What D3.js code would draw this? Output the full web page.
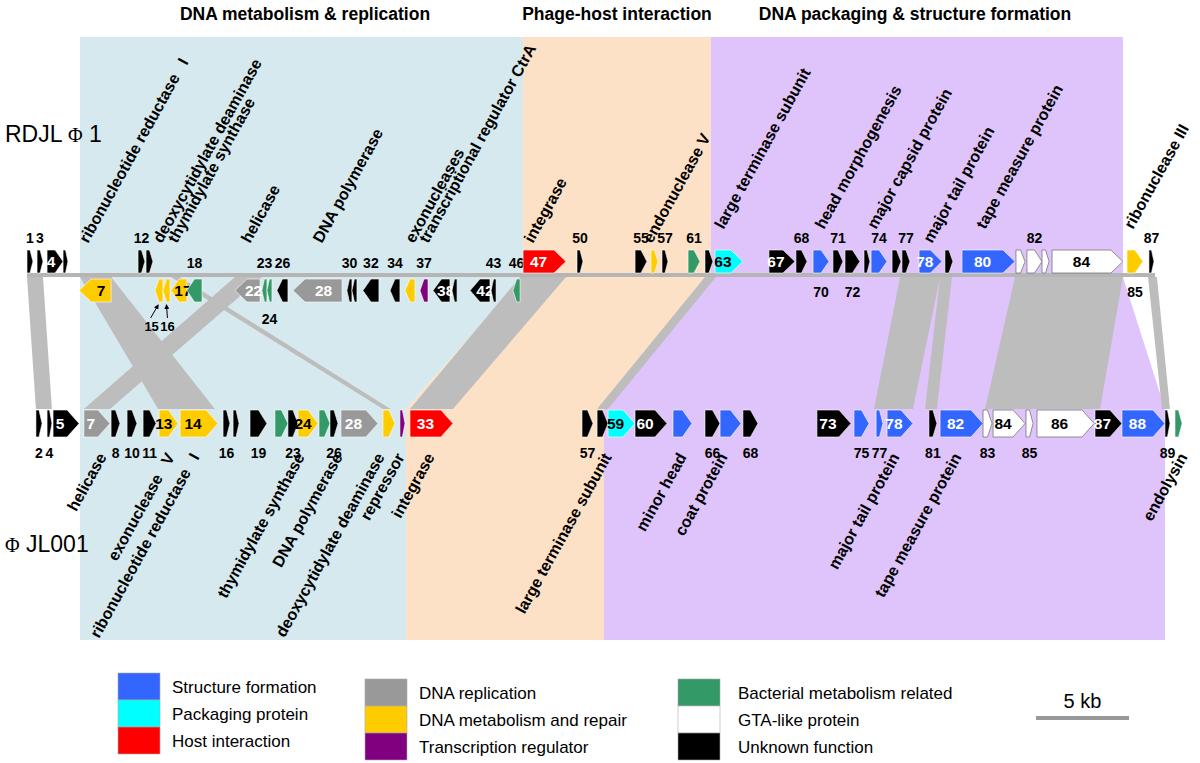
<!DOCTYPE html>
<html><head><meta charset="utf-8">
<script src="https://cdn.jsdelivr.net/npm/d3@7"></script>
<style>
body{margin:0;background:#fff;}
text{font-family:Arial,"Liberation Sans",sans-serif;}
</style></head><body>
<svg id="chart" width="1200" height="763"></svg>
<script>
// ---------- DATA ----------
const catCodes  = ["S","P","H","R","M","T","B","G","U"];
const catNames  = ["Structure formation","Packaging protein","Host interaction",
                   "DNA replication","DNA metabolism and repair","Transcription regulator",
                   "Bacterial metabolism related","GTA-like protein","Unknown function"];
const catColors = ["#3366ff","#00ffff","#ff0000","#999999","#ffcc00","#800080","#339966","#ffffff","#000000"];

const regionNames  = ["DNA metabolism & replication","Phage-host interaction","DNA packaging & structure formation"];
const regionColors = ["#d5e9ee","#fde1c6","#dfc3fb"];
// [top start kb, top end kb, bottom start kb, bottom end kb]
const regionSpans  = [[2.85,26.67,2.85,20.38],[26.67,36.77,20.38,31.02],[36.77,58.92,31.02,61.18]];

const genomeNames = ["RDJL","JL001"];
const topGenomeLength = 60.65;

// RDJLΦ1 genes: [number, start kb, end kb, strand, category, number placement]
const topGenes = [
 ["1",0.00,0.32,1,"U","up"],["3",0.54,0.86,1,"U","up"],["4",1.08,1.94,1,"U","in"],["5",1.94,2.20,1,"U",""],
 ["7",2.80,4.52,-1,"M","in"],["12",5.97,6.34,1,"U","up"],["13",6.40,6.77,1,"U",""],
 ["15",6.88,7.31,-1,"M",""],["16",7.31,7.69,-1,"M",""],["17",7.74,8.60,-1,"M","in"],["18",8.60,9.41,-1,"B","up"],
 ["22",11.18,12.53,-1,"R","in"],["23",12.63,12.90,-1,"B","up"],["24",12.90,13.17,-1,"B","dn"],["26",13.44,14.03,-1,"U","up"],
 ["28",14.30,16.94,-1,"R","in"],["30",17.20,17.47,-1,"U","up"],["31",17.47,17.74,-1,"U",""],["32",18.06,18.92,-1,"U","up"],
 ["34",19.52,20.05,-1,"U","up"],["35",20.32,20.86,-1,"M",""],["37",21.13,21.56,-1,"T","up"],["38",21.83,22.74,-1,"U","in"],
 ["39",22.85,23.12,-1,"U",""],["42",23.82,24.89,-1,"U","in"],["43",24.95,25.22,-1,"U","up"],["46",26.13,26.51,-1,"B","up"],
 ["47",26.67,28.98,1,"H","in"],["50",29.57,29.89,1,"U","up"],["55",32.69,33.33,1,"U","up"],["56",33.55,33.92,1,"M",""],
 ["57",34.14,34.46,1,"U","up"],["61",35.54,36.18,1,"B","up"],["62",36.45,36.88,1,"U",""],["63",36.99,38.49,1,"P","in"],
 ["67",39.89,41.29,1,"U","in"],["68",41.34,41.94,1,"U","up"],["70",42.26,43.12,1,"S","dn"],["71",43.33,43.87,1,"U","up"],
 ["72",43.98,44.78,1,"U","dn"],["73",45.00,45.32,1,"U",""],["74",45.38,46.24,1,"S","up"],["76",46.51,46.99,1,"U",""],
 ["77",47.04,47.47,1,"U","up"],["78",47.96,49.19,1,"S","in"],["79",49.35,49.78,1,"U",""],["80",50.27,53.12,1,"S","in"],
 ["81",53.17,53.66,1,"G",""],["82",53.76,54.57,1,"G","up"],["83",54.57,54.95,1,"G",""],["84",55.11,58.92,1,"G","in"],
 ["85",59.14,60.00,1,"M","dn"],["87",60.32,60.59,1,"U","up"]
];
// small genes labelled with pointer arrows: [number, label kb, target kb]
const pointerLabels = [["15",6.70,7.05],["16",7.55,7.50]];

// ΦJL001 genes: [number, start kb, end kb, category, number placement]
const botGenes = [
 ["2",0.48,0.81,"U","dn"],["4",1.08,1.34,"U","dn"],["5",1.40,2.80,"U","in"],["7",3.06,4.46,"R","in"],
 ["8",4.52,5.00,"U","dn"],["10",5.38,5.91,"U","dn"],["11",6.24,6.94,"U","dn"],["13",7.10,8.12,"M","in"],
 ["14",8.23,10.27,"M","in"],["16",10.54,10.91,"U","dn"],["17",11.08,11.40,"U",""],["19",11.99,12.90,"U","dn"],
 ["21",13.33,14.03,"B",""],["23",14.03,14.57,"U","dn"],["24",14.57,15.65,"M","in"],["25",15.70,16.29,"B",""],
 ["26",16.29,16.72,"U","dn"],["28",16.88,18.87,"R","in"],["30",19.14,19.78,"M",""],["31",20.05,20.32,"T",""],
 ["33",20.59,22.90,"H","in"],["57",29.84,30.43,"U","dn"],["58",30.65,31.24,"U",""],["59",31.24,32.69,"P","in"],
 ["60",32.69,34.41,"U","in"],["62",34.73,35.75,"S",""],["66",36.45,37.26,"U","dn"],["67",37.26,38.39,"S",""],
 ["68",38.49,39.30,"U","dn"],["73",42.47,44.30,"U","in"],["75",44.46,45.27,"S","dn"],["77",45.65,46.02,"S","dn"],
 ["78",46.24,47.63,"S","in"],["81",48.49,48.92,"U","dn"],["82",49.09,51.40,"S","in"],["83",51.40,51.88,"G","dn"],
 ["84",51.94,53.66,"G","in"],["85",53.71,54.09,"G","dn"],["86",54.30,57.37,"G","in"],["87",57.42,58.87,"U","in"],
 ["88",58.87,61.18,"S","in"],["89",61.18,61.45,"U","dn"],["90",61.72,62.10,"B",""]
];

// homology links: [top start kb, top end kb, bottom start kb, bottom end kb]
const homology = [
 [0.00,0.86,0.48,1.34],[2.85,4.52,7.05,10.10],[11.18,12.63,3.06,4.46],[7.74,8.20,19.14,19.55],
 [26.51,28.98,20.59,22.90],[36.45,37.04,30.65,31.24],[46.94,49.09,45.54,47.63],[49.09,49.73,48.28,48.92],
 [53.12,58.92,51.51,57.69],[60.27,60.75,61.02,61.45]
];

// function annotations: [text, anchor kb, level]
const topFunctions = [
 ["ribonucleotide reductase   I",3.28,0],["deoxycytidylate deaminase",7.25,0],["thymidylate synthase",8.05,0],
 ["helicase",11.99,0],["DNA polymerase",15.85,0],["exonucleases",20.80,0],["transcriptional regulator CtrA",21.56,0],
 ["integrase",27.20,0],["endonuclease V",33.60,0],["large terminase subunit",37.45,1],["head morphogenesis",42.85,1],
 ["major capsid protein",45.65,1],["major tail protein",48.66,0],["tape measure protein",51.51,1],["ribonuclease III",59.46,1]
];
const botFunctions = [
 ["helicase",4.30],["exonuclease   V",7.96],["ribonucleotide reductase   I",9.30],["thymidylate synthase",14.95],
 ["DNA polymerase",16.99],["deoxycytidylate deaminase",19.25],["repressor",20.32],["integrase",21.94],
 ["large terminase subunit",31.45],["minor head",35.48],["coat protein",37.69],["major tail protein",46.94],
 ["tape measure protein",50.27],["endolysin",62.42]
];
const scaleBarKb = 5;

// ---------- DRAW ----------
const svg = d3.select("#chart");
const x = d3.scaleLinear().domain([0, 60]).range([27, 1143]);
const color = d3.scaleOrdinal().domain(catCodes).range(catColors);

const Y = {regTop:37, regBot:640, linkTop:277, linkBot:409,
           topLine:275, fwdTop:250, fwdBot:273, revTop:279, revBot:302,
           botTop:410, botBot:437};

// regions
regionSpans.forEach((s,i)=>{
  const pts = [[x(s[0]),Y.regTop],[x(s[1]),Y.regTop],[x(s[1]),Y.linkTop],[x(s[3]),Y.linkBot],
               [x(s[3]),Y.regBot],[x(s[2]),Y.regBot],[x(s[2]),Y.linkBot],[x(s[0]),Y.linkTop]];
  svg.append("path").attr("d", d3.line()(pts)+"Z").attr("fill", regionColors[i]);
});
// headings
const headingX = [305, 617, 915];
regionNames.forEach((n,i)=>{
  svg.append("text").attr("x",headingX[i]).attr("y",20).attr("text-anchor","middle")
    .attr("font-size",17.5).attr("font-weight","bold").text(n);
});

// homology bands
svg.append("g").selectAll("path").data(homology).join("path")
  .attr("d", h => d3.line()([[x(h[0]),Y.linkTop],[x(h[1]),Y.linkTop],[x(h[3]),Y.linkBot],[x(h[2]),Y.linkBot]])+"Z")
  .attr("fill","#bdbdbd");

// genome line
svg.append("line").attr("x1",x(0)).attr("x2",x(topGenomeLength)).attr("y1",Y.topLine).attr("y2",Y.topLine)
  .attr("stroke","#b5b5b5").attr("stroke-width",4);

function arrowPath(x0,x1,y0,y1,dir){
  const w=x1-x0, tip=Math.min(12,w*0.5), ym=(y0+y1)/2;
  if(dir>0) return `M${x0},${y0}L${x1-tip},${y0}L${x1},${ym}L${x1-tip},${y1}L${x0},${y1}Z`;
  return `M${x1},${y0}L${x0+tip},${y0}L${x0},${ym}L${x0+tip},${y1}L${x1},${y1}Z`;
}
const darkText = c => (c==="M"||c==="P"||c==="G") ? "#000" : "#fff";

function drawGene(g, num, s, e, dir, cat, pos, y0, y1, upY, dnY){
  const x0=x(s), x1=x(e);
  g.append("path").attr("d",arrowPath(x0,x1,y0,y1,dir)).attr("fill",color(cat))
    .attr("stroke", cat==="G" ? "#777" : "#fff").attr("stroke-width", cat==="G" ? 0.8 : 0.6);
  const w=x1-x0, tip=Math.min(12,w*0.5);
  if(pos==="in"){
    const cx = dir>0 ? (x0+x1-tip)/2 : (x0+tip+x1)/2;
    g.append("text").attr("x",cx).attr("y",(y0+y1)/2+5.5).attr("text-anchor","middle")
      .attr("font-size",15.5).attr("font-weight","bold").attr("fill",darkText(cat)).text(num);
  } else if(pos==="up" || pos==="dn"){
    g.append("text").attr("x",(x0+x1)/2).attr("y",pos==="up"?upY:dnY).attr("text-anchor","middle")
      .attr("font-size",14).attr("font-weight","bold").text(num);
  }
}
const gTop = svg.append("g");
topGenes.forEach(d=>{
  const fwd = d[3]>0;
  drawGene(gTop,d[0],d[1],d[2],d[3],d[4],d[5],
    fwd?Y.fwdTop:Y.revTop, fwd?Y.fwdBot:Y.revBot,
    fwd?243:268, fwd?297:324);
});
svg.append("defs").append("marker").attr("id","ah").attr("viewBox","0 0 10 10").attr("refX",8).attr("refY",5)
  .attr("markerWidth",5).attr("markerHeight",5).attr("orient","auto")
  .append("path").attr("d","M0,0L10,5L0,10Z").attr("fill","#000");
pointerLabels.forEach(p=>{
  const lx=x(p[1]), tx=x(p[2]);
  svg.append("text").attr("x",lx).attr("y",331).attr("text-anchor","middle")
    .attr("font-size",13).attr("font-weight","bold").text(p[0]);
  svg.append("line").attr("x1",lx+(tx>lx?-1:0)).attr("y1",318).attr("x2",tx).attr("y2",305)
    .attr("stroke","#000").attr("stroke-width",1).attr("marker-end","url(#ah)");
});

const gBot = svg.append("g");
botGenes.forEach(d=>{
  drawGene(gBot,d[0],d[1],d[2],1,d[3],d[4],Y.botTop,Y.botBot,0,458);
});

// genome names
const serif = "'Liberation Serif','Times New Roman',serif";
const n1 = svg.append("text").attr("x",5).attr("y",142).attr("font-size",23);
n1.append("tspan").text(genomeNames[0]+" ");
n1.append("tspan").attr("font-family",serif).attr("font-size",20).text("\u03A6");
n1.append("tspan").text(" 1");
const n2 = svg.append("text").attr("x",5).attr("y",552).attr("font-size",23);
n2.append("tspan").attr("font-family",serif).attr("font-size",20).text("\u03A6");
n2.append("tspan").text(" "+genomeNames[1]);

// function labels
const levelY = [244, 230];
topFunctions.forEach(f=>{
  const ax=x(f[1]), ay=levelY[f[2]];
  svg.append("text").attr("transform",`translate(${ax},${ay}) rotate(-61)`)
    .attr("font-size",16).attr("font-weight","bold").style("white-space","pre").text(f[0]);
});
botFunctions.forEach(f=>{
  const ax=x(f[1]), ay=457;
  svg.append("text").attr("transform",`translate(${ax},${ay}) rotate(-61)`).attr("text-anchor","end")
    .attr("font-size",16).attr("font-weight","bold").style("white-space","pre").text(f[0]);
});

// legend
const legCols = [[118,673],[365,679],[678,679]];
const legTextDx = [12,12,18];
catCodes.forEach((c,i)=>{
  const col=Math.floor(i/3), row=i%3;
  const bx=legCols[col][0], by=legCols[col][1]+row*27;
  svg.append("rect").attr("x",bx).attr("y",by).attr("width",42).attr("height",27)
    .attr("fill",color(c)).attr("stroke","#aaa").attr("stroke-width",0.6);
  svg.append("text").attr("x",bx+42+legTextDx[col]).attr("y",by+19.5).attr("font-size",17)
    .text(catNames[i]);
});
// scale bar
const sb0 = 1036;
svg.append("line").attr("x1",sb0).attr("x2",sb0+(x(scaleBarKb)-x(0))).attr("y1",718).attr("y2",718)
  .attr("stroke","#999").attr("stroke-width",4);
svg.append("text").attr("x",sb0+(x(scaleBarKb)-x(0))/2).attr("y",708).attr("text-anchor","middle")
  .attr("font-size",20).text(scaleBarKb+" kb");
</script>
</body></html>
